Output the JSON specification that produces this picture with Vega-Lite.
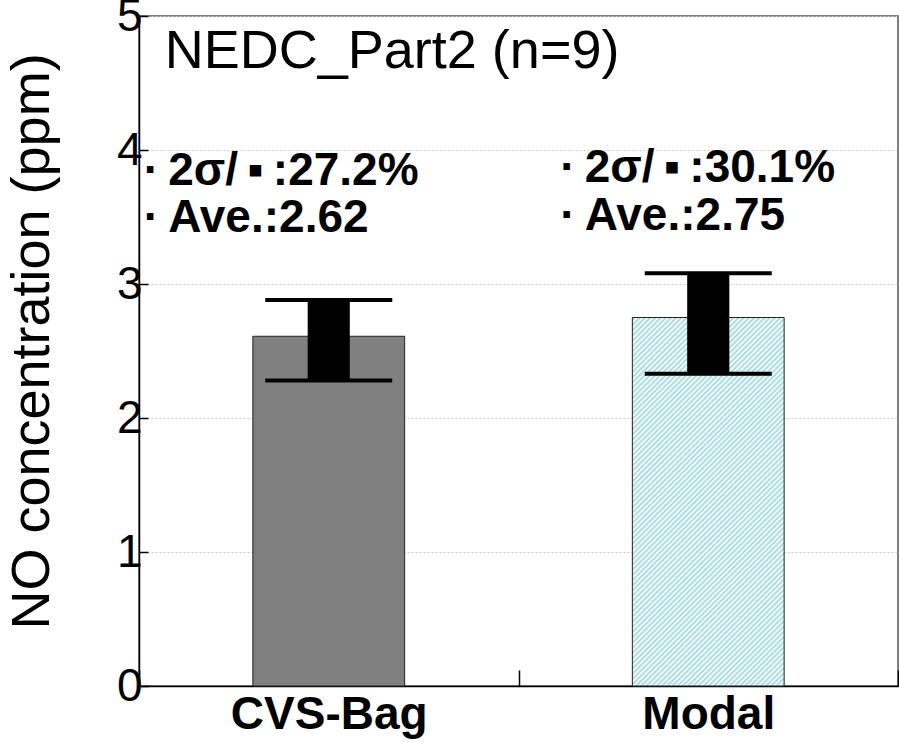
{
  "$schema": "https://vega.github.io/schema/vega-lite/v6.json",
  "width": 759,
  "height": 670,
  "autosize": {"type": "none"},
  "padding": {"left": 139, "top": 16, "right": 1, "bottom": 56},
  "background": "white",
  "config": {
    "font": "Liberation Sans",
    "view": {"stroke": "#555", "strokeWidth": 1.5}
  },
  "datasets": {
    "bars": [
      {"method": "CVS-Bag", "mean": 2.61, "lo": 2.28, "hi": 2.88},
      {"method": "Modal", "mean": 2.75, "lo": 2.33, "hi": 3.08}
    ],
    "notes": [
      {"method": "CVS-Bag", "line": "·\u20092σ/\u2009▪\u2009:27.2%", "y": 3.74},
      {"method": "CVS-Bag", "line": "·\u2009Ave.:2.62", "y": 3.39},
      {"method": "Modal", "line": "·\u20092σ/\u2009▪\u2009:30.1%", "y": 3.76},
      {"method": "Modal", "line": "·\u2009Ave.:2.75", "y": 3.40}
    ],
    "heading": [
      {"label": "NEDC_Part2 (n=9)"}
    ]
  },
  "encoding": {
    "x": {
      "field": "method",
      "type": "nominal",
      "sort": ["CVS-Bag", "Modal"],
      "scale": {"domain": ["CVS-Bag", "Modal"], "paddingInner": 0, "paddingOuter": 0},
      "axis": {
        "title": null,
        "labelAngle": 0,
        "labelLimit": 0,
        "labelFont": "Liberation Sans",
        "labelFontSize": 46,
        "labelFontWeight": "bold",
        "labelColor": "black",
        "labelPadding": 22,
        "tickBand": "extent",
        "tickSize": -16,
        "tickColor": "black",
        "tickWidth": 1.5,
        "domainColor": "black",
        "domainWidth": 1.5
      }
    }
  },
  "layer": [
    {
      "data": {"name": "bars"},
      "transform": [{"filter": "datum.method === 'CVS-Bag'"}],
      "mark": {"type": "bar", "width": {"band": 0.4}, "fill": "#808080", "stroke": "#222", "strokeWidth": 1},
      "encoding": {
        "y": {
          "field": "mean",
          "type": "quantitative",
          "scale": {"domain": [0, 5], "nice": false},
          "axis": {
            "title": "NO concentration (ppm)",
            "titleFont": "Liberation Sans",
            "titleFontSize": 54,
            "titleFontWeight": "normal",
            "titleColor": "black",
            "titleAngle": -90,
            "titleBaseline": "alphabetic",
            "titleX": -91,
            "titleY": 325,
            "values": [0, 0.5, 1, 1.5, 2, 2.5, 3, 3.5, 4, 4.5, 5],
            "format": "d",
            "labelExpr": "datum.value % 1 === 0 ? datum.label : ''",
            "labelFont": "Liberation Sans",
            "labelFontSize": 46,
            "labelColor": "black",
            "labelPadding": 6,
            "tickSize": -9,
            "tickColor": "black",
            "tickWidth": 1.5,
            "domainColor": "black",
            "domainWidth": 1.5,
            "grid": true,
            "gridColor": "#c8c8c8",
            "gridDash": [2, 2],
            "gridWidth": 1,
            "gridOpacity": {"condition": {"test": "datum.value % 1 !== 0", "value": 0}, "value": 1}
          }
        }
      }
    },
    {
      "data": {"name": "bars"},
      "transform": [{"filter": "datum.method === 'Modal'"}],
      "mark": {
        "type": "bar",
        "width": {"band": 0.4},
        "stroke": "#222",
        "strokeWidth": 1,
        "fill": {
          "gradient": "linear",
          "x1": 0, "y1": 0, "x2": 0.498, "y2": 1.207,
          "stops": [
            {"offset": 0, "color": "#ffffff"}, {"offset": 0.005, "color": "#9fd6db"}, {"offset": 0.01, "color": "#ffffff"}, {"offset": 0.015, "color": "#9fd6db"}, {"offset": 0.02, "color": "#ffffff"},
            {"offset": 0.025, "color": "#9fd6db"}, {"offset": 0.03, "color": "#ffffff"}, {"offset": 0.035, "color": "#9fd6db"}, {"offset": 0.04, "color": "#ffffff"}, {"offset": 0.045, "color": "#9fd6db"},
            {"offset": 0.05, "color": "#ffffff"}, {"offset": 0.055, "color": "#9fd6db"}, {"offset": 0.06, "color": "#ffffff"}, {"offset": 0.065, "color": "#9fd6db"}, {"offset": 0.07, "color": "#ffffff"},
            {"offset": 0.075, "color": "#9fd6db"}, {"offset": 0.08, "color": "#ffffff"}, {"offset": 0.085, "color": "#9fd6db"}, {"offset": 0.09, "color": "#ffffff"}, {"offset": 0.095, "color": "#9fd6db"},
            {"offset": 0.1, "color": "#ffffff"}, {"offset": 0.105, "color": "#9fd6db"}, {"offset": 0.11, "color": "#ffffff"}, {"offset": 0.115, "color": "#9fd6db"}, {"offset": 0.12, "color": "#ffffff"},
            {"offset": 0.125, "color": "#9fd6db"}, {"offset": 0.13, "color": "#ffffff"}, {"offset": 0.135, "color": "#9fd6db"}, {"offset": 0.14, "color": "#ffffff"}, {"offset": 0.145, "color": "#9fd6db"},
            {"offset": 0.15, "color": "#ffffff"}, {"offset": 0.155, "color": "#9fd6db"}, {"offset": 0.16, "color": "#ffffff"}, {"offset": 0.165, "color": "#9fd6db"}, {"offset": 0.17, "color": "#ffffff"},
            {"offset": 0.175, "color": "#9fd6db"}, {"offset": 0.18, "color": "#ffffff"}, {"offset": 0.185, "color": "#9fd6db"}, {"offset": 0.19, "color": "#ffffff"}, {"offset": 0.195, "color": "#9fd6db"},
            {"offset": 0.2, "color": "#ffffff"}, {"offset": 0.205, "color": "#9fd6db"}, {"offset": 0.21, "color": "#ffffff"}, {"offset": 0.215, "color": "#9fd6db"}, {"offset": 0.22, "color": "#ffffff"},
            {"offset": 0.225, "color": "#9fd6db"}, {"offset": 0.23, "color": "#ffffff"}, {"offset": 0.235, "color": "#9fd6db"}, {"offset": 0.24, "color": "#ffffff"}, {"offset": 0.245, "color": "#9fd6db"},
            {"offset": 0.25, "color": "#ffffff"}, {"offset": 0.255, "color": "#9fd6db"}, {"offset": 0.26, "color": "#ffffff"}, {"offset": 0.265, "color": "#9fd6db"}, {"offset": 0.27, "color": "#ffffff"},
            {"offset": 0.275, "color": "#9fd6db"}, {"offset": 0.28, "color": "#ffffff"}, {"offset": 0.285, "color": "#9fd6db"}, {"offset": 0.29, "color": "#ffffff"}, {"offset": 0.295, "color": "#9fd6db"},
            {"offset": 0.3, "color": "#ffffff"}, {"offset": 0.305, "color": "#9fd6db"}, {"offset": 0.31, "color": "#ffffff"}, {"offset": 0.315, "color": "#9fd6db"}, {"offset": 0.32, "color": "#ffffff"},
            {"offset": 0.325, "color": "#9fd6db"}, {"offset": 0.33, "color": "#ffffff"}, {"offset": 0.335, "color": "#9fd6db"}, {"offset": 0.34, "color": "#ffffff"}, {"offset": 0.345, "color": "#9fd6db"},
            {"offset": 0.35, "color": "#ffffff"}, {"offset": 0.355, "color": "#9fd6db"}, {"offset": 0.36, "color": "#ffffff"}, {"offset": 0.365, "color": "#9fd6db"}, {"offset": 0.37, "color": "#ffffff"},
            {"offset": 0.375, "color": "#9fd6db"}, {"offset": 0.38, "color": "#ffffff"}, {"offset": 0.385, "color": "#9fd6db"}, {"offset": 0.39, "color": "#ffffff"}, {"offset": 0.395, "color": "#9fd6db"},
            {"offset": 0.4, "color": "#ffffff"}, {"offset": 0.405, "color": "#9fd6db"}, {"offset": 0.41, "color": "#ffffff"}, {"offset": 0.415, "color": "#9fd6db"}, {"offset": 0.42, "color": "#ffffff"},
            {"offset": 0.425, "color": "#9fd6db"}, {"offset": 0.43, "color": "#ffffff"}, {"offset": 0.435, "color": "#9fd6db"}, {"offset": 0.44, "color": "#ffffff"}, {"offset": 0.445, "color": "#9fd6db"},
            {"offset": 0.45, "color": "#ffffff"}, {"offset": 0.455, "color": "#9fd6db"}, {"offset": 0.46, "color": "#ffffff"}, {"offset": 0.465, "color": "#9fd6db"}, {"offset": 0.47, "color": "#ffffff"},
            {"offset": 0.475, "color": "#9fd6db"}, {"offset": 0.48, "color": "#ffffff"}, {"offset": 0.485, "color": "#9fd6db"}, {"offset": 0.49, "color": "#ffffff"}, {"offset": 0.495, "color": "#9fd6db"},
            {"offset": 0.5, "color": "#ffffff"}, {"offset": 0.505, "color": "#9fd6db"}, {"offset": 0.51, "color": "#ffffff"}, {"offset": 0.515, "color": "#9fd6db"}, {"offset": 0.52, "color": "#ffffff"},
            {"offset": 0.525, "color": "#9fd6db"}, {"offset": 0.53, "color": "#ffffff"}, {"offset": 0.535, "color": "#9fd6db"}, {"offset": 0.54, "color": "#ffffff"}, {"offset": 0.545, "color": "#9fd6db"},
            {"offset": 0.55, "color": "#ffffff"}, {"offset": 0.555, "color": "#9fd6db"}, {"offset": 0.56, "color": "#ffffff"}, {"offset": 0.565, "color": "#9fd6db"}, {"offset": 0.57, "color": "#ffffff"},
            {"offset": 0.575, "color": "#9fd6db"}, {"offset": 0.58, "color": "#ffffff"}, {"offset": 0.585, "color": "#9fd6db"}, {"offset": 0.59, "color": "#ffffff"}, {"offset": 0.595, "color": "#9fd6db"},
            {"offset": 0.6, "color": "#ffffff"}, {"offset": 0.605, "color": "#9fd6db"}, {"offset": 0.61, "color": "#ffffff"}, {"offset": 0.615, "color": "#9fd6db"}, {"offset": 0.62, "color": "#ffffff"},
            {"offset": 0.625, "color": "#9fd6db"}, {"offset": 0.63, "color": "#ffffff"}, {"offset": 0.635, "color": "#9fd6db"}, {"offset": 0.64, "color": "#ffffff"}, {"offset": 0.645, "color": "#9fd6db"},
            {"offset": 0.65, "color": "#ffffff"}, {"offset": 0.655, "color": "#9fd6db"}, {"offset": 0.66, "color": "#ffffff"}, {"offset": 0.665, "color": "#9fd6db"}, {"offset": 0.67, "color": "#ffffff"},
            {"offset": 0.675, "color": "#9fd6db"}, {"offset": 0.68, "color": "#ffffff"}, {"offset": 0.685, "color": "#9fd6db"}, {"offset": 0.69, "color": "#ffffff"}, {"offset": 0.695, "color": "#9fd6db"},
            {"offset": 0.7, "color": "#ffffff"}, {"offset": 0.705, "color": "#9fd6db"}, {"offset": 0.71, "color": "#ffffff"}, {"offset": 0.715, "color": "#9fd6db"}, {"offset": 0.72, "color": "#ffffff"},
            {"offset": 0.725, "color": "#9fd6db"}, {"offset": 0.73, "color": "#ffffff"}, {"offset": 0.735, "color": "#9fd6db"}, {"offset": 0.74, "color": "#ffffff"}, {"offset": 0.745, "color": "#9fd6db"},
            {"offset": 0.75, "color": "#ffffff"}, {"offset": 0.755, "color": "#9fd6db"}, {"offset": 0.76, "color": "#ffffff"}, {"offset": 0.765, "color": "#9fd6db"}, {"offset": 0.77, "color": "#ffffff"},
            {"offset": 0.775, "color": "#9fd6db"}, {"offset": 0.78, "color": "#ffffff"}, {"offset": 0.785, "color": "#9fd6db"}, {"offset": 0.79, "color": "#ffffff"}, {"offset": 0.795, "color": "#9fd6db"},
            {"offset": 0.8, "color": "#ffffff"}, {"offset": 0.805, "color": "#9fd6db"}, {"offset": 0.81, "color": "#ffffff"}, {"offset": 0.815, "color": "#9fd6db"}, {"offset": 0.82, "color": "#ffffff"},
            {"offset": 0.825, "color": "#9fd6db"}, {"offset": 0.83, "color": "#ffffff"}, {"offset": 0.835, "color": "#9fd6db"}, {"offset": 0.84, "color": "#ffffff"}, {"offset": 0.845, "color": "#9fd6db"},
            {"offset": 0.85, "color": "#ffffff"}, {"offset": 0.855, "color": "#9fd6db"}, {"offset": 0.86, "color": "#ffffff"}, {"offset": 0.865, "color": "#9fd6db"}, {"offset": 0.87, "color": "#ffffff"},
            {"offset": 0.875, "color": "#9fd6db"}, {"offset": 0.88, "color": "#ffffff"}, {"offset": 0.885, "color": "#9fd6db"}, {"offset": 0.89, "color": "#ffffff"}, {"offset": 0.895, "color": "#9fd6db"},
            {"offset": 0.9, "color": "#ffffff"}, {"offset": 0.905, "color": "#9fd6db"}, {"offset": 0.91, "color": "#ffffff"}, {"offset": 0.915, "color": "#9fd6db"}, {"offset": 0.92, "color": "#ffffff"},
            {"offset": 0.925, "color": "#9fd6db"}, {"offset": 0.93, "color": "#ffffff"}, {"offset": 0.935, "color": "#9fd6db"}, {"offset": 0.94, "color": "#ffffff"}, {"offset": 0.945, "color": "#9fd6db"},
            {"offset": 0.95, "color": "#ffffff"}, {"offset": 0.955, "color": "#9fd6db"}, {"offset": 0.96, "color": "#ffffff"}, {"offset": 0.965, "color": "#9fd6db"}, {"offset": 0.97, "color": "#ffffff"},
            {"offset": 0.975, "color": "#9fd6db"}, {"offset": 0.98, "color": "#ffffff"}, {"offset": 0.985, "color": "#9fd6db"}, {"offset": 0.99, "color": "#ffffff"}, {"offset": 0.995, "color": "#9fd6db"},
            {"offset": 1, "color": "#ffffff"}
          ]
        }
      },
      "encoding": {
        "y": {"field": "mean", "type": "quantitative"}
      }
    },
    {
      "data": {"name": "bars"},
      "mark": {"type": "bar", "width": {"band": 0.111}, "color": "black"},
      "encoding": {
        "y": {"field": "lo", "type": "quantitative"},
        "y2": {"field": "hi"}
      }
    },
    {
      "data": {"name": "bars"},
      "mark": {"type": "tick", "size": 127, "thickness": 4, "color": "black", "opacity": 1},
      "encoding": {"y": {"field": "lo", "type": "quantitative"}}
    },
    {
      "data": {"name": "bars"},
      "mark": {"type": "tick", "size": 127, "thickness": 4, "color": "black", "opacity": 1},
      "encoding": {"y": {"field": "hi", "type": "quantitative"}}
    },
    {
      "data": {"name": "notes"},
      "transform": [{"filter": "datum.method === 'CVS-Bag'"}],
      "mark": {"type": "text", "align": "left", "baseline": "alphabetic", "dx": -185, "font": "Liberation Sans", "fontSize": 46, "fontWeight": "bold", "color": "black"},
      "encoding": {
        "y": {"field": "y", "type": "quantitative"},
        "text": {"field": "line"}
      }
    },
    {
      "data": {"name": "notes"},
      "transform": [{"filter": "datum.method === 'Modal'"}],
      "mark": {"type": "text", "align": "left", "baseline": "alphabetic", "dx": -148, "font": "Liberation Sans", "fontSize": 46, "fontWeight": "bold", "color": "black"},
      "encoding": {
        "y": {"field": "y", "type": "quantitative"},
        "text": {"field": "line"}
      }
    },
    {
      "data": {"name": "heading"},
      "mark": {"type": "text", "align": "left", "baseline": "alphabetic", "dx": -164, "font": "Liberation Sans", "fontSize": 54, "fontWeight": "normal", "color": "black"},
      "encoding": {
        "x": {"datum": "CVS-Bag"},
        "y": {"datum": 4.61, "type": "quantitative"},
        "text": {"field": "label"}
      }
    }
  ]
}
